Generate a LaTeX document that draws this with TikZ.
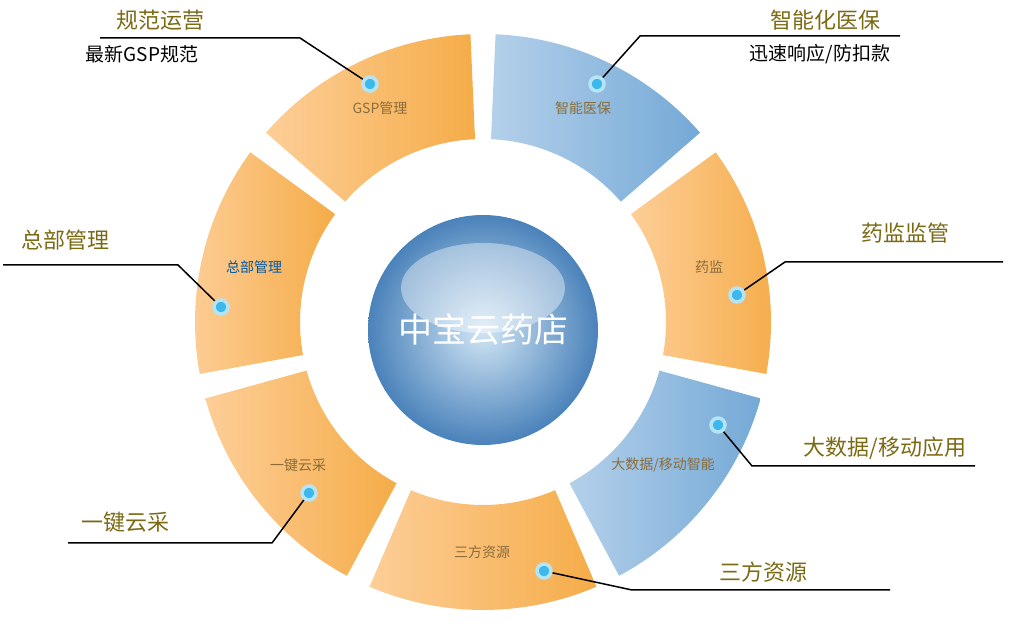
\documentclass[tikz,border=0pt]{standalone}
\usepackage{fontspec}
\newfontfamily\cjk{Noto Sans CJK SC}
\usetikzlibrary{calc}
\definecolor{orL}{HTML}{FDCE98}
\definecolor{orD}{HTML}{F5AC48}
\definecolor{blL}{HTML}{B4D0EA}
\definecolor{blD}{HTML}{74A9D6}
\definecolor{ttl}{HTML}{7B6A14}
\definecolor{segtxt}{HTML}{8A6D3B}
\definecolor{sphI}{HTML}{D2E6F5}
\definecolor{sphO}{HTML}{4A82BA}
\definecolor{dotc}{HTML}{3CB8EC}
\definecolor{dotr}{HTML}{B5E4F5}
\begin{document}
\begin{tikzpicture}[x=1pt,y=1pt,
  ttlsty/.style={font=\cjk\fontsize{22}{24}\selectfont, text=ttl},
  substy/.style={font=\cjk\fontsize{19}{22}\selectfont, text=black},
  segsty/.style={font=\cjk\fontsize{14}{16}\selectfont, text=segtxt},
  lnk/.style={draw=black, line width=1.5pt},
  dotsty/.style={circle, fill=dotc, draw=dotr, line width=3.5pt, minimum size=14pt, inner sep=0pt}]
\useasboundingbox (0,0) rectangle (1009,628);
\coordinate (c) at (483,306);
\def\Ro{288}\def\Ri{183}
\newcommand{\segm}[4]{%
  \path[left color=#3, right color=#4]
   ($(c)+(#1+2.5:\Ro)$) arc[start angle=#1+2.5, end angle=#2-2.5, radius=\Ro]
   -- ($(c)+(#2-2.5:\Ri)$) arc[start angle=#2-2.5, end angle=#1+2.5, radius=\Ri] -- cycle;}
\segm{90}{141.4}{orL}{orD}
\segm{141.4}{192.9}{orL}{orD}
\segm{192.9}{244.3}{orL}{orD}
\segm{244.3}{295.7}{orL}{orD}
\segm{295.7}{347.1}{blL}{blD}
\segm{347.1}{398.6}{orL}{orD}
\segm{38.6}{90}{blL}{blD}
% sphere
\shade[inner color=sphI, outer color=sphO] (483,298) circle[radius=115];
\fill[white, opacity=0.4] (483,340) ellipse[x radius=82, y radius=45];
\node[font=\cjk\fontsize{34}{36}\selectfont, text=white] (ctr) at (483,298) {中宝云药店};
% segment labels
\node[segsty] (s1) at (380,520) {GSP管理};
\node[segsty] (s2) at (583,520) {智能医保};
\node[segsty, text=teal!70!blue] (s3) at (254,361) {总部管理};
\node[segsty] (s4) at (709,361) {药监};
\node[segsty] (s5) at (663,163) {大数据/移动智能};
\node[segsty] (s6) at (298,163) {一键云采};
\node[segsty] (s7) at (482,76) {三方资源};
% dots
\node[dotsty] (d1) at (370,544) {};
\node[dotsty] (d2) at (597,544) {};
\node[dotsty] (d3) at (221,321) {};
\node[dotsty] (d4) at (737,333) {};
\node[dotsty] (d5) at (718,203) {};
\node[dotsty] (d6) at (309,135) {};
\node[dotsty] (d7) at (544,57) {};
% callout ends
\coordinate (k1) at (300,590); \coordinate (e1) at (100,590);
\coordinate (k2) at (640,592); \coordinate (e2) at (900,592);
\coordinate (k3) at (178,363); \coordinate (e3) at (3,363);
\coordinate (k4) at (785,366); \coordinate (e4) at (1003,366);
\coordinate (k5) at (752,162); \coordinate (e5) at (975,162);
\coordinate (k6) at (272,85); \coordinate (e6) at (68,85);
\coordinate (k7) at (632,38); \coordinate (e7) at (890,38);
\foreach \i in {1,...,7}{\draw[lnk] (d\i) -- (k\i) -- (e\i);}
% titles
\node[ttlsty] (t1) at (160,608) {规范运营};
\node[substy] (u1) at (142,574) {最新GSP规范};
\node[ttlsty] (t2) at (825,608) {智能化医保};
\node[substy] (u2) at (820,574) {迅速响应/防扣款};
\node[ttlsty] (t3) at (65,388) {总部管理};
\node[ttlsty] (t4) at (905,395) {药监监管};
\node[ttlsty] (t5) at (885,180) {大数据/移动应用};
\node[ttlsty] (t6) at (125,106) {一键云采};
\node[ttlsty] (t7) at (763,56) {三方资源};
\end{tikzpicture}
\end{document}
